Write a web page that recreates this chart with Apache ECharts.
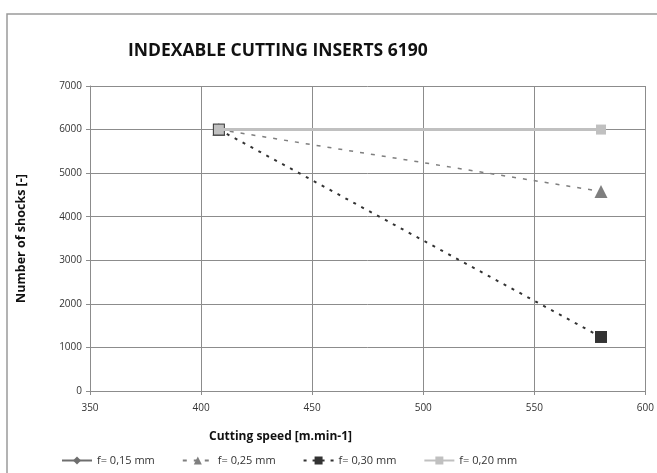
<!DOCTYPE html>
<html>
<head>
<meta charset="utf-8">
<script src="https://cdn.jsdelivr.net/npm/echarts@6/dist/echarts.min.js"></script>
<style>
  html, body { margin: 0; padding: 0; background: #fff; }
  #chart { width: 657px; height: 473px; }
</style>
</head>
<body>
<div id="chart"></div>
<script>
// cutting speed [m.min-1]
const speeds = [408, 580];
// number of shocks per feed
const f015 = [6000, 6000];
const f025 = [6000, 4580];
const f030 = [6000, 1240];
const f020 = [6000, 6000];
const seriesNames = ['f= 0,15 mm', 'f= 0,25 mm', 'f= 0,30 mm', 'f= 0,20 mm'];

const pairs = (ys) => speeds.map((x, i) => [x, ys[i]]);
const font = '"Open Sans", "Liberation Sans", sans-serif';

const myChart = echarts.init(document.getElementById('chart'));

const option = {
  animation: false,
  backgroundColor: '#fff',
  graphic: [
    {
      type: 'rect',
      shape: { x: 7, y: 14, width: 700, height: 500 },
      style: { fill: 'none', stroke: '#9a9a9a', lineWidth: 1.5 },
      silent: true
    },
    {
      // x axis title sits left of the plot centre in the original
      type: 'text',
      left: 209,
      top: 431,
      style: {
        text: 'Cutting speed [m.min-1]',
        font: 'bold 12px "Open Sans", "Liberation Sans", sans-serif',
        fill: '#111'
      },
      silent: true
    }
  ],
  title: {
    text: 'INDEXABLE CUTTING INSERTS 6190',
    left: 123,
    top: 37,
    textStyle: {
      fontFamily: font,
      fontSize: 17.5,
      fontWeight: 'bold',
      color: '#111'
    }
  },
  legend: {
    left: 56,
    top: 450,
    itemWidth: 30,
    itemHeight: 10,
    itemGap: 27,
    textStyle: { fontFamily: font, fontSize: 11, color: '#333' },
    data: seriesNames
  },
  grid: {
    left: 90,
    right: 11,
    top: 86,
    bottom: 82
  },
  xAxis: {
    type: 'value',
    min: 350,
    max: 600,
    interval: 50,
    axisLine: { lineStyle: { color: '#8c8c8c', width: 1 } },
    axisTick: { show: true, length: 4, lineStyle: { color: '#8c8c8c' } },
    axisLabel: { fontFamily: font, fontSize: 10, color: '#333', margin: 12 },
    splitLine: { show: true, lineStyle: { color: '#8c8c8c', width: 1 } }
  },
  yAxis: {
    type: 'value',
    min: 0,
    max: 7000,
    interval: 1000,
    name: 'Number of shocks [-]',
    nameLocation: 'middle',
    nameGap: 62,
    nameTextStyle: {
      fontFamily: font,
      fontSize: 12.5,
      fontWeight: 'bold',
      color: '#111'
    },
    axisLine: { show: true, lineStyle: { color: '#8c8c8c', width: 1 } },
    axisTick: { show: true, length: 4, lineStyle: { color: '#8c8c8c' } },
    axisLabel: {
      fontFamily: font,
      fontSize: 10,
      color: '#333',
      margin: 8,
      formatter: (v) => String(v)
    },
    splitLine: { show: true, lineStyle: { color: '#8c8c8c', width: 1 } }
  },
  series: [
    {
      name: seriesNames[0],
      type: 'line',
      data: pairs(f015),
      symbol: 'diamond',
      symbolSize: 8,
      itemStyle: { color: '#6e6e6e' },
      lineStyle: { color: '#6e6e6e', width: 1.5 },
      z: 2
    },
    {
      name: seriesNames[1],
      type: 'line',
      data: pairs(f025),
      symbol: 'triangle',
      symbolSize: 13,
      itemStyle: { color: '#7f7f7f' },
      lineStyle: { color: '#7f7f7f', width: 1.5, type: [4, 7] },
      z: 3
    },
    {
      name: seriesNames[2],
      type: 'line',
      data: pairs(f030),
      symbol: 'rect',
      symbolSize: 12,
      itemStyle: { color: '#333333' },
      lineStyle: { color: '#333333', width: 2, type: [3, 6] },
      z: 4
    },
    {
      name: seriesNames[3],
      type: 'line',
      data: pairs(f020),
      symbol: 'rect',
      symbolSize: 10,
      itemStyle: { color: '#c0c0c0' },
      lineStyle: { color: '#c0c0c0', width: 3 },
      z: 5
    }
  ]
};

myChart.setOption(option);
</script>
</body>
</html>
